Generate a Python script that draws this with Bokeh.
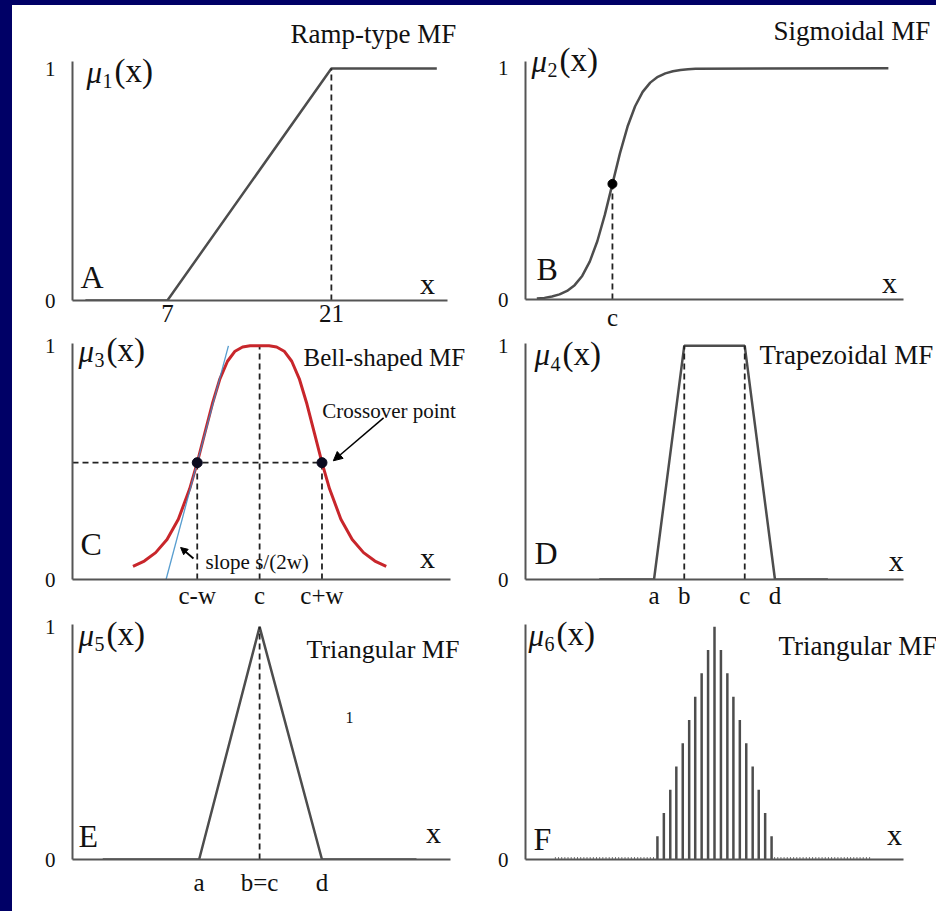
import numpy as np
from bokeh.plotting import figure
from bokeh.models import Label, Arrow, NormalHead, FixedTicker, Div
from bokeh.layouts import row, column
from bokeh.embed import file_html
from bokeh.resources import INLINE

# ---------------- data ----------------
# A: ramp-type MF
ramp_x = [0, 7, 21, 30]
ramp_mu = [0, 0, 1, 1]
ramp_ticks = [7, 21]
ramp_knee = 21

# B: sigmoidal MF
sig_x = [3, 5, 7, 9, 11, 13, 15, 17, 19, 21, 23, 25, 27, 29, 31, 33, 35, 37, 39, 41, 43, 45, 96]
sig_mu = [0.004, 0.007, 0.013, 0.022, 0.037, 0.062, 0.102, 0.164, 0.252, 0.367, 0.5, 0.633,
          0.748, 0.836, 0.898, 0.938, 0.963, 0.978, 0.987, 0.993, 0.996, 0.998, 1.0]
sig_c = 23
sig_ticks = {23: "c"}

# C: bell-shaped MF
bell_x = [16, 19, 22, 25, 28, 31, 33, 35, 37, 39, 41, 43, 45, 47, 49.5,
          52, 54, 56, 58, 60, 62, 64, 66, 68, 71, 74, 77, 80, 83]
bell_mu = [0.056, 0.079, 0.115, 0.171, 0.258, 0.388, 0.5, 0.626, 0.752, 0.859, 0.934, 0.977,
           0.995, 1.0, 1.0, 1.0, 0.995, 0.977, 0.934, 0.859, 0.752, 0.626, 0.5, 0.388,
           0.258, 0.171, 0.115, 0.079, 0.056]
bell_cross_x = [33, 66]
bell_cross_mu = [0.5, 0.5]
bell_c = 49.5
bell_tangent_x = [24.75, 41.25]
bell_tangent_mu = [0, 1]
bell_ticks = {33: "c-w", 49.5: "c", 66: "c+w"}

# D: trapezoidal MF
trap_x = [19.5, 34, 42, 58, 66, 80]
trap_mu = [0, 0, 1, 1, 0, 0]
trap_dash_x = [42, 58]
trap_ticks = {34: "a", 42: "b", 58: "c", 66: "d"}

# E: triangular MF
tri_x = [8, 33.5, 49.5, 66, 91]
tri_mu = [0, 0, 1, 0, 0]
tri_peak = 49.5
tri_ticks = {33.5: "a", 49.5: "b=c", 66: "d"}

# F: discrete triangular MF
bars_x = [34.9, 36.6, 38.3, 39.9, 41.6, 43.3, 44.9, 46.6, 48.3, 50.0,
          51.7, 53.4, 55.0, 56.7, 58.4, 60.1, 61.7, 63.4, 65.1]
bars_mu = [0.1, 0.2, 0.3, 0.4, 0.5, 0.6, 0.7, 0.8, 0.9, 1.0,
           0.9, 0.8, 0.7, 0.6, 0.5, 0.4, 0.3, 0.2, 0.1]
# zero-valued samples of the discrete universe
zero_x = [round(7.9 + 0.8375 * i, 2) for i in range(32)] + \
         [round(65.9 + 0.8375 * i, 2) for i in range(31)]
zero_mu = [0.0] * len(zero_x)

# ---------------- style ----------------
NAVY = "#000066"
FONT = "Liberation Serif"
CURVE = "#4d4d4d"
AXIS = "#555555"
DASH = "#222222"
TXT = "#111111"


def make_fig(width, height, x_range, y_range, xb, yb, bl, bb, xticks, yticks, standoff):
    p = figure(width=width, height=height, x_range=x_range, y_range=y_range,
               min_border_left=bl, min_border_right=0, min_border_top=0,
               min_border_bottom=bb, toolbar_location=None, output_backend="svg",
               title=None)
    p.grid.visible = False
    p.outline_line_color = None
    p.background_fill_color = "white"
    p.border_fill_color = "white"
    for ax in (p.xaxis[0], p.yaxis[0]):
        ax.axis_line_color = AXIS
        ax.axis_line_width = 2
        ax.major_tick_line_color = None
        ax.minor_tick_line_color = None
        ax.major_tick_in = 0
        ax.major_tick_out = 0
        ax.major_label_text_font = FONT
        ax.major_label_text_color = TXT
    p.xaxis.bounds = xb
    p.yaxis.bounds = yb
    p.xaxis.major_label_text_font_size = "25px"
    p.xaxis.major_label_standoff = standoff
    p.yaxis.major_label_text_font_size = "21px"
    p.yaxis.major_label_standoff = 17
    if isinstance(xticks, dict):
        p.xaxis.ticker = FixedTicker(ticks=list(xticks.keys()))
        p.xaxis.major_label_overrides = xticks
    else:
        p.xaxis.ticker = FixedTicker(ticks=list(xticks))
    p.yaxis.ticker = FixedTicker(ticks=list(yticks))
    return p


def lab(p, x, y, text, size, align="left", style="normal", xo=0, yo=0):
    # (x, y) is the baseline anchor; lift by the renderer's baseline shift
    p.add_layout(Label(x=x, y=y, text=text, text_font=FONT, text_font_size=f"{size}px",
                       text_align=align, text_baseline="alphabetic", text_font_style=style,
                       text_color=TXT, x_offset=xo, y_offset=yo + round(0.33 * size)))


def mu(p, x, y, digit):
    lab(p, x, y, "\u03bc", 31, style="italic")
    lab(p, x, y, digit, 20, xo=16, yo=-6)
    lab(p, x, y, "(x)", 33, xo=28)


# column 1: width 460 (frame 72..472), column 2: width 464 (frame 525..936)
# rows: 328, 280, 298
pA = make_fig(460, 328, (-1.1, 33.047), (0, 1.2716), (-1.1, 30.9), (0, 1.03), 60, 33,
              ramp_ticks, [0, 1], 4)
pB = make_fig(464, 328, (0, 108.73), (0, 1.2716), (0, 100), (0, 1.03), 53, 33,
              sig_ticks, [0, 1], 4)
pC = make_fig(460, 280, (0, 105.82), (0, 1.0528), (0, 100), (0, 1.01), 60, 34,
              bell_ticks, [0, 1], 2)
pD = make_fig(464, 280, (0, 108.73), (0, 1.0528), (0, 100), (0, 1.01), 53, 34,
              trap_ticks, [0, 1], 2)
pE = make_fig(460, 298, (0, 105.82), (0, 1.0573), (0, 100), (0, 1.01), 60, 52,
              tri_ticks, [0, 1], 9)
pF = make_fig(464, 298, (0, 108.73), (0, 1.0573), (0, 100), (0, 1.01), 53, 52,
              [], [0], 9)

# A
pA.line(ramp_x, ramp_mu, line_color=CURVE, line_width=2.5)
pA.segment(x0=[ramp_knee], y0=[0], x1=[ramp_knee], y1=[1], line_color=DASH,
           line_width=1.8, line_dash="6 4")
lab(pA, 17.51, 1.112, "Ramp-type MF", 27)
lab(pA, -0.42, 0.056, "A", 32)
lab(pA, 29.2, 0.03, "x", 30, align="center")
mu(pA, 0.095, 0.94, "1")

# B
pB.line(sig_x, sig_mu, line_color=CURVE, line_width=2.5, line_join="round")
pB.segment(x0=[sig_c], y0=[0], x1=[sig_c], y1=[0.5], line_color=DASH,
           line_width=1.8, line_dash="6 4")
pB.scatter([sig_c], [0.5], size=9, color="black")
lab(pB, 65.6, 1.121, "Sigmoidal MF", 27)
lab(pB, 2.9, 0.086, "B", 32)
lab(pB, 96.3, 0.03, "x", 30, align="center")
mu(pB, 1.6, 0.987, "2")

# C
pC.segment(x0=[0] + bell_cross_x + [bell_c], y0=[0.5, 0, 0, 0],
           x1=[bell_cross_x[1]] + bell_cross_x + [bell_c], y1=[0.5] + bell_cross_mu + [1],
           line_color=DASH, line_width=1.8, line_dash="6 4")
pC.line(bell_x, bell_mu, line_color="#c8262b", line_width=3, line_join="round")
pC.line(bell_tangent_x, bell_tangent_mu, line_color="#3a8cc7", line_width=1.3, line_alpha=0.85)
pC.scatter(bell_cross_x, bell_cross_mu, size=10, color="#0a0a1e")
lab(pC, 61.1, 0.916, "Bell-shaped MF", 25)
lab(pC, 66.1, 0.693, "Crossover point", 21)
lab(pC, 35.2, 0.047, "slope s/(2w)", 21)
lab(pC, 2.1, 0.103, "C", 32)
lab(pC, 93.9, 0.051, "x", 30, align="center")
mu(pC, 1.6, 0.933, "3")
pC.add_layout(Arrow(end=NormalHead(size=9, fill_color="black", line_color="black"),
                    x_start=82.3, y_start=0.692, x_end=69.0, y_end=0.508,
                    line_width=1.5, line_color="black"))
pC.add_layout(Arrow(end=NormalHead(size=7, fill_color="black", line_color="black"),
                    x_start=32.0, y_start=0.09, x_end=28.6, y_end=0.137,
                    line_width=1.8, line_color="black"))

# D
pD.line(trap_x, trap_mu, line_color=CURVE, line_width=2.5)
pD.segment(x0=trap_dash_x, y0=[0, 0], x1=trap_dash_x, y1=[1, 1], line_color=DASH,
           line_width=1.8, line_dash="6 4")
lab(pD, 61.9, 0.924, "Trapezoidal MF", 27)
lab(pD, 2.4, 0.068, "D", 32)
lab(pD, 98.1, 0.039, "x", 30, align="center")
mu(pD, 2.4, 0.92, "4")

# E
pE.line(tri_x, tri_mu, line_color=CURVE, line_width=2.5)
pE.segment(x0=[tri_peak], y0=[0], x1=[tri_peak], y1=[1], line_color=DASH,
           line_width=1.8, line_dash="6 4")
lab(pE, 61.9, 0.864, "Triangular MF", 26)
lab(pE, 73.3, 0.589, "1", 16, align="center")
lab(pE, 1.6, 0.052, "E", 32)
lab(pE, 95.5, 0.073, "x", 30, align="center")
mu(pE, 1.6, 0.92, "5")

# F
pF.segment(x0=bars_x, y0=[0] * len(bars_x), x1=bars_x, y1=bars_mu,
           line_color=CURVE, line_width=2.5)
pF.scatter(zero_x, zero_mu, marker="dash", angle=np.pi / 2, size=5,
           line_color="#777777", line_width=1)
lab(pF, 66.9, 0.877, "Triangular MF", 27)
lab(pF, 2.1, 0.039, "F", 32)
lab(pF, 97.6, 0.064, "x", 30, align="center")
mu(pF, 0.8, 0.92, "6")

top = Div(width=936, height=5, margin=0, styles={"background-color": NAVY})
left = Div(width=12, height=906, margin=0, styles={"background-color": NAVY})
col1 = column(pA, pC, pE, spacing=0)
col2 = column(pB, pD, pF, spacing=0)
body = row(left, col1, col2, spacing=0)
root = column(top, body, spacing=0)

open("out.html", "w").write(file_html(root, INLINE))
